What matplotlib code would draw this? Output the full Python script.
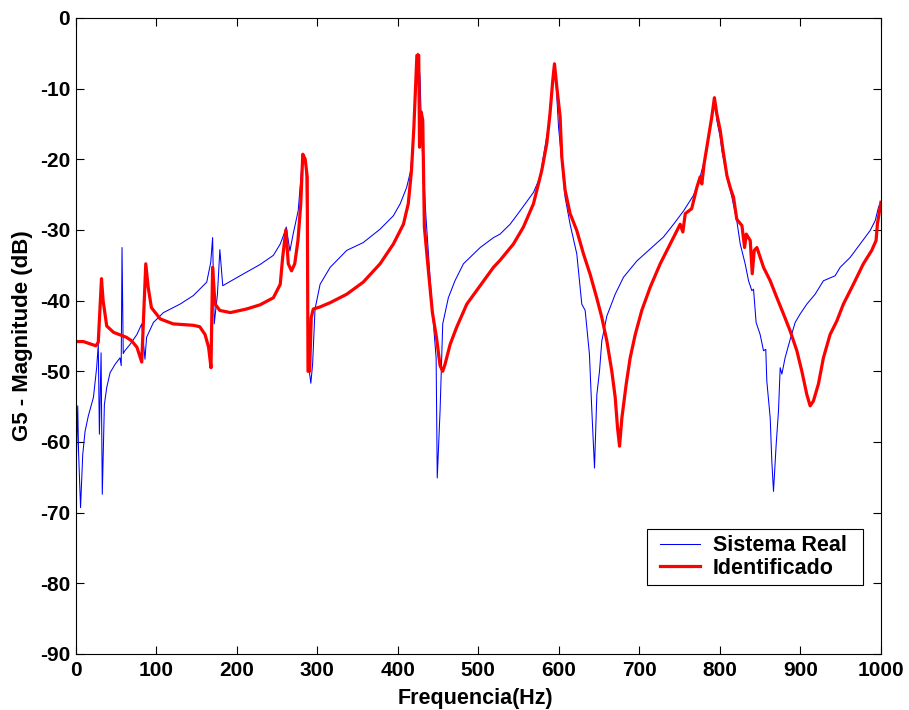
import matplotlib
matplotlib.use("Agg")
import matplotlib.pyplot as plt
from matplotlib.legend_handler import HandlerLine2D

freq_ident = [0, 9.5, 25, 28, 32, 34, 38.5, 47, 63, 69.5, 76, 82, 87, 90, 94, 105, 121, 146, 154,
              160.6, 165, 168, 170, 173, 179, 192, 212, 229, 245.5, 254, 257, 261, 264, 268, 272,
              276, 279.5, 282, 285, 287.5, 288.5, 290.5, 292.5, 295, 303.5, 316, 336.6, 357, 378,
              394.5, 407, 413, 417, 420, 423.7, 426, 427, 429, 431, 433, 438, 443, 448, 452.5,
              455.8, 458.7, 465, 473, 485.7, 502.3, 518.8, 527, 543.6, 556, 568.5, 578.8, 585,
              589, 592.5, 594.6, 597.5, 601.6, 603.7, 607.8, 614, 622.3, 630.6, 638.9, 647,
              653.4, 659.6, 665.8, 670, 672.9, 675.4, 678.3, 683.7, 688.6, 694.9, 703, 713.5,
              725.9, 738.3, 750.7, 754, 757, 765, 771.4, 775.5, 777.6, 780.5, 785.9, 790, 793.2,
              796.2, 800.4, 804.5, 808.7, 812.8, 817, 821, 827.4, 830.7, 832.8, 837.7, 840.2,
              842.7, 846, 854.2, 862.5, 870.8, 879, 887.3, 895.6, 901.8, 908, 912.1, 916.2,
              922.4, 928.6, 936.9, 945.2, 953.4, 965.8, 978.2, 988.6, 994, 995.6, 1000]
mag_ident = [-45.8, -45.8, -46.4, -45.9, -36.9, -40, -43.6, -44.5, -45.2, -45.7, -46.6, -48.7,
             -34.8, -38.1, -41, -42.6, -43.3, -43.5, -43.7, -44.8, -46.6, -49.5, -35.3, -40.5,
             -41.4, -41.7, -41.2, -40.6, -39.6, -37.7, -33.9, -30, -34.8, -35.8, -34.8, -31.5,
             -26.3, -19.3, -20, -22.5, -50, -50, -42.4, -41.2, -40.9, -40.3, -39.1, -37.4,
             -34.8, -32, -29.2, -26.3, -21.6, -15.4, -5.3, -5.3, -18.3, -13.3, -14.5, -29.6,
             -35.8, -41.7, -45.2, -49.2, -50, -49, -46.2, -43.8, -40.5, -37.9, -35.3, -34.3,
             -32, -29.6, -26.3, -21.6, -17.8, -13.6, -8.8, -6.5, -9.8, -14, -19.7, -24.4,
             -27.7, -30.1, -33.4, -36.3, -39.6, -42.4, -45.7, -50, -53.7, -58, -60.6, -56.6,
             -51.8, -48.1, -44.8, -41.4, -38.1, -34.8, -32, -29.2, -30.3, -27.7, -27, -24,
             -22.5, -23.5, -20.6, -16.9, -14, -11.3, -13.6, -15.9, -19.2, -22.3, -24, -25.4,
             -28.5, -29.4, -32.5, -30.6, -31.5, -36.2, -32.9, -32.5, -35.3, -37.2, -39.6,
             -41.9, -44.3, -47.1, -50, -53.3, -54.9, -54.2, -51.8, -48.1, -44.8, -42.9,
             -40.5, -37.7, -34.8, -32.9, -31.5, -29.2, -26.1]

freq_real = [0, 1, 2.5, 3.5, 6, 8.7, 11.6, 15.7, 22, 26, 28, 29.4, 31.5, 33, 35.6, 38.5, 42.7,
             49, 55, 56.5, 57.5, 59, 61, 67.5, 76, 82, 86, 88, 96.5, 109, 129.6, 146, 162.7,
             167.7, 170, 172, 176, 179, 182.6, 204, 229, 245.5, 254, 258, 261.5, 266, 270,
             276.3, 280.7, 283.6, 286, 289, 292, 294.2, 297.2, 303.5, 316, 336.6, 357, 378,
             394.5, 403, 411, 416, 418.6, 421.9, 425, 427.6, 430, 435, 440, 444, 447.6, 449,
             452.5, 455.8, 462.8, 471, 481.5, 502.3, 518.8, 527, 539.5, 551.9, 568.5, 576.8,
             581, 587, 593.3, 595.5, 599.6, 607.8, 614, 622.3, 628.5, 632.7, 638, 641, 644.3,
             647.2, 650.5, 653.4, 659.6, 670, 680.3, 696.9, 713.5, 730, 742.5, 755, 767.3,
             775.5, 783.8, 791.3, 794.2, 796.2, 800.4, 802.5, 808.7, 815, 821, 825.3, 831.4,
             835.6, 839.7, 841.8, 845, 850, 854.2, 857, 858.3, 862.5, 864.5, 866.6, 869.9,
             872.8, 874.9, 877, 881, 887.3, 893.5, 899.7, 908, 918.3, 928.6, 943.1, 949.4,
             961.8, 974.2, 986.6, 992.9, 997, 1000]
mag_real = [-52.8, -61.8, -54.9, -61.3, -69.3, -61.8, -58.5, -56.3, -53.7, -49.5, -46.2, -58.9,
            -47.4, -67.4, -54.7, -52.3, -50.2, -49, -48.1, -49.2, -32.5, -47.5, -47.1, -46.2,
            -44.8, -43.3, -48.3, -45.2, -43.1, -41.7, -40.5, -39.3, -37.4, -34.6, -31.1,
            -43.3, -39.1, -32.8, -37.9, -36.5, -34.9, -33.6, -32, -30.8, -29.6, -33, -30.6,
            -27.3, -21.1, -19.7, -21.1, -49, -51.7, -49, -41.2, -37.7, -35.3, -32.9, -31.8,
            -29.9, -28, -26.3, -24, -21.6, -17.8, -9.8, -5, -8.4, -17.8, -28.2, -36.7, -42.9,
            -48.1, -65.1, -55.6, -43.3, -39.6, -37.2, -34.8, -32.5, -31.1, -30.6, -29.2,
            -27.3, -24.7, -22.5, -19.5, -15.4, -7.4, -7.2, -15.4, -25.4, -29.2, -33.4, -40.5,
            -41.4, -47.6, -55.6, -63.7, -53.3, -50, -45.7, -42.2, -39.1, -36.7, -34.4, -32.7,
            -31, -29.2, -27.3, -25.1, -22.5, -18.8, -12.6, -11.9, -14.5, -16.9, -18.8, -22.5,
            -25.4, -28.7, -32, -34.8, -37.2, -38.6, -38.4, -43.1, -44.8, -47.1, -46.9, -51.4,
            -56.6, -62.7, -67, -60.4, -55.6, -49.5, -50.4, -48.1, -45.5, -43.1, -41.9, -40.5,
            -39.1, -37.2, -36.5, -35.3, -33.9, -32, -30.1, -28.7, -26.8, -26.1]

x_ticks = [0, 100, 200, 300, 400, 500, 600, 700, 800, 900, 1000]
y_ticks = [0, -10, -20, -30, -40, -50, -60, -70, -80, -90]

plt.rcParams['font.family'] = ['Liberation Sans', 'DejaVu Sans']
plt.rcParams['font.weight'] = 'bold'
plt.rcParams['axes.unicode_minus'] = False

fig = plt.figure(figsize=(9.09, 7.10), dpi=100)
ax = fig.add_axes([0.0833, 0.0789, 0.8858, 0.8960])

ax.plot(freq_real, mag_real, color=(0, 0, 1), linewidth=0.75, label='Sistema Real')
ax.plot(freq_ident, mag_ident, color=(1, 0, 0), linewidth=2.3, label='Identificado')

ax.set_xlim(0, 1000)
ax.set_ylim(-90, 0)
ax.set_xticks(x_ticks)
ax.set_yticks(y_ticks)
ax.tick_params(direction='in', length=5.5, width=0.8, top=True, right=True, labelsize=15)
ax.tick_params(axis='x', pad=5)
ax.tick_params(axis='y', pad=4)
for lab in ax.get_xticklabels() + ax.get_yticklabels():
    lab.set_fontweight('bold')
for sp in ax.spines.values():
    sp.set_linewidth(0.8)

ax.set_xlabel('Frequencia(Hz)', fontsize=15.5, fontweight='bold', labelpad=0)
ax.set_ylabel('G5 - Magnitude (dB)', fontsize=16, fontweight='bold', labelpad=4)
ax.xaxis.set_label_coords(0.496, -0.053)
ax.yaxis.set_label_coords(-0.053, 0.50)

leg = ax.legend(loc='upper left', bbox_to_anchor=(0.7094, 0.1, 0.2683, 0.0965),
                mode='expand', borderaxespad=0,
                fontsize=15.5, handlelength=2.15, handletextpad=0.6, fancybox=False,
                framealpha=1, edgecolor='black', borderpad=0.3, labelspacing=0.05,
                handler_map={matplotlib.lines.Line2D: HandlerLine2D(xpad=0.3)})
leg.get_frame().set_linewidth(0.8)
for t in leg.get_texts():
    t.set_fontweight('bold')

fig.savefig('out.png', dpi=100)
